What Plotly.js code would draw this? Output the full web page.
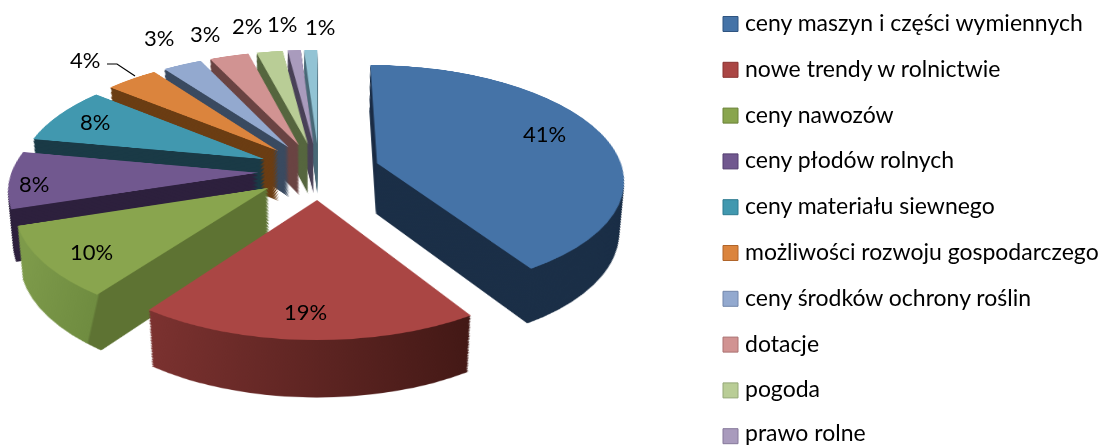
<!DOCTYPE html>
<html lang="pl">
<head>
<meta charset="utf-8">
<script src="https://cdn.plot.ly/plotly-3.0.1.min.js"></script>
<style>
html,body{margin:0;padding:0;width:1104px;height:446px;overflow:hidden;background:#fff}
#stage{position:absolute;left:0;top:0;width:1104px;height:446px;overflow:hidden}
#pie{position:absolute;left:-31px;top:-149px;width:700px;height:800px;
     transform-origin:350px 320px;transform:perspective(1655px) rotateX(62.6deg);filter:blur(0.4px)}
#overlay{position:absolute;left:0;top:0;width:1104px;height:446px;pointer-events:none}
</style>
</head>
<body>
<div id="stage"><div id="pie"></div><div id="overlay"></div></div>
<script>
// Data
const categories = ["ceny maszyn i części wymiennych","nowe trendy w rolnictwie","ceny nawozów","ceny płodów rolnych","ceny materiału siewnego","możliwości rozwoju gospodarczego","ceny środków ochrony roślin","dotacje","pogoda","prawo rolne","inne"];
const values = [41,19,10,8,8,4,3,3,2,1,1];
const legendCount = 10; // the eleventh entry falls below the picture's edge

// Styles
const topColors  = ["#4573a7","#aa4644","#89a54e","#71588f","#4198af","#db843d","#93a9cf","#d19392","#b9cd96","#a99bbd","#92c3d4"];
const wallColors = ["#1b2f47","#5a2320","#5f7434","#2d203d","#1a3a46","#6b3d13","#3a4a60","#6a4443","#56663f","#4a4258","#4a6a78"];
const legendEdge = ["#2f5480","#8a3230","#6a8238","#553f70","#2d7a90","#b0652a","#7286ab","#ab7372","#95a878","#85799a","#70a0b0"];
const labelPos = [[544,133],[305,311],[91,251],[34,183],[95,121],[85,59],[159,37],[205,33],[247,25],[282,23],[320,26]];
const labelFont = {family:"Lato, 'Open Sans', sans-serif", size:22, color:"#000"};

// Pie geometry (px inside the tilted plane). The lower layers of the slab are
// the same pie seen further from the camera: smaller, and shifted towards the viewer.
const W = 700, H = 800, CX = 350, CY = 320, R = 246, PULL = 0.248;
const CAMERA_FOOT = 1468, LAYERS = 36, MIN_SCALE = 0.929;

function pieTrace(k, colors){
  const half = R * (1 + PULL) * k, cy = CY + CAMERA_FOOT * (1 - k);
  return {
    type:"pie", values:values, labels:categories, sort:false, direction:"clockwise", rotation:0,
    pull:PULL, textinfo:"none", hoverinfo:"label+percent", showlegend:false,
    marker:{colors:colors, line:{width:0}},
    domain:{x:[(CX-half)/W,(CX+half)/W], y:[1-(cy+half)/H, 1-(cy-half)/H]}
  };
}
const traces = [];
for (let i = 0; i < LAYERS; i++) traces.push(pieTrace(MIN_SCALE + (1-MIN_SCALE)*i/LAYERS, wallColors));
traces.push(pieTrace(1, topColors));

Plotly.newPlot("pie", traces, {
  width:W, height:H, margin:{l:0,r:0,t:0,b:0},
  paper_bgcolor:"rgba(0,0,0,0)", plot_bgcolor:"rgba(0,0,0,0)", showlegend:false
}, {staticPlot:true, displayModeBar:false}).then(gd=>{
  // shading along the walls of the red and green slices
  const NS = "http://www.w3.org/2000/svg", svg = gd.querySelector(".main-svg");
  const defs = svg.querySelector("defs") || svg.appendChild(document.createElementNS(NS,"defs"));
  function grad(id,x1,x2,stops){
    const g = document.createElementNS(NS,"linearGradient");
    g.setAttribute("id",id); g.setAttribute("gradientUnits","userSpaceOnUse");
    g.setAttribute("x1",x1); g.setAttribute("x2",x2); g.setAttribute("y1",0); g.setAttribute("y2",0);
    stops.forEach(s=>{const e=document.createElementNS(NS,"stop");
      e.setAttribute("offset",s[0]); e.setAttribute("stop-color",s[1]); g.appendChild(e);});
    defs.appendChild(g);
  }
  grad("wallRed",205,480,[[0,"#7c3230"],[1,"#421815"]]);
  grad("wallGreen",85,175,[[0,"#7d9a4a"],[0.8,"#6f8c40"],[0.81,"#5e7333"],[1,"#5e7333"]]);
  const layers = gd.querySelectorAll(".pielayer .trace");
  layers.forEach((t,n)=>{
    if (n === layers.length-1) return;
    const s = t.querySelectorAll(".slice path.surface");
    s[1].style.fill = "url(#wallRed)";
    s[2].style.fill = "url(#wallGreen)";
  });
});

// Labels, leader line and legend
const annotations = [], shapes = [];
values.forEach((v,i)=>annotations.push({
  x:labelPos[i][0], y:labelPos[i][1], xref:"x", yref:"y", text:v+"%", showarrow:false,
  xanchor:"center", yanchor:"middle", font:labelFont
}));
shapes.push({type:"path", xref:"x", yref:"y", path:"M107,64 L117,64 L135,76", line:{color:"#000",width:1.2}});
categories.slice(0,legendCount).forEach((c,i)=>{
  const y = 24 + i*45.8;
  shapes.push({type:"rect", xref:"x", yref:"y", x0:723, x1:738, y0:y-7.5, y1:y+7.5,
    fillcolor:topColors[i], line:{color:legendEdge[i],width:1}});
  annotations.push({x:743, y:Math.min(y-2,431.5), xref:"x", yref:"y", text:c, showarrow:false,
    xanchor:"left", yanchor:"middle", font:{family:labelFont.family,size:23,color:"#000"}});
});
Plotly.newPlot("overlay", [], {
  width:1104, height:446, margin:{l:0,r:0,t:0,b:0},
  paper_bgcolor:"rgba(0,0,0,0)", plot_bgcolor:"rgba(0,0,0,0)", showlegend:false,
  xaxis:{range:[0,1104],visible:false,fixedrange:true},
  yaxis:{range:[446,0],visible:false,fixedrange:true},
  annotations:annotations, shapes:shapes
}, {staticPlot:true, displayModeBar:false});
</script>
</body>
</html>
